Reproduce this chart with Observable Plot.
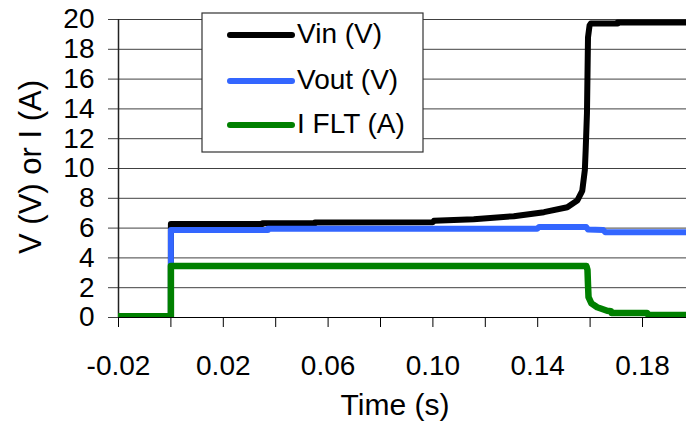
<!DOCTYPE html>
<html><head><meta charset="utf-8">
<script src="https://cdn.jsdelivr.net/npm/d3@7"></script>
<script src="https://cdn.jsdelivr.net/npm/@observablehq/plot@0.6"></script>
<style>
body{margin:0;background:#fff}
svg{display:block}
</style>
</head><body><div id="chart"></div>
<script>
// ---- data ----
const vinTime = [-0.02, 0, 0, 0.035, 0.035, 0.055, 0.055, 0.1, 0.1004, 0.1156, 0.1309, 0.1424, 0.1513, 0.1551, 0.157, 0.158, 0.1583, 0.1588, 0.1592, 0.1598, 0.1603, 0.1705, 0.1705, 0.2];
const vinValue = [0, 0, 6.27, 6.27, 6.32, 6.32, 6.38, 6.4, 6.49, 6.6, 6.8, 7.07, 7.4, 7.85, 8.5, 9.9, 11.2, 13.7, 18.8, 19.6, 19.73, 19.73, 19.8, 19.8];

const voutTime = [-0.02, 0, 0, 0.037, 0.037, 0.1398, 0.1405, 0.1585, 0.1592, 0.165, 0.1658, 0.2];
const voutValue = [0, 0, 5.87, 5.87, 5.96, 5.96, 6.07, 6.07, 5.9, 5.88, 5.72, 5.72];

const iTime = [-0.02, 0, 0, 0.1586, 0.159, 0.1592, 0.1594, 0.1605, 0.1627, 0.1665, 0.168, 0.1682, 0.1818, 0.1822, 0.2];
const iValue = [0.09, 0.09, 3.45, 3.45, 3.2, 2.2, 1.36, 0.95, 0.69, 0.45, 0.42, 0.3, 0.3, 0.16, 0.16];

const seriesNames = ["Vin (V)", "Vout (V)", "I FLT (A)"];
const seriesColors = ["#000000", "#3366ff", "#008000"];

const yTicks = [0, 2, 4, 6, 8, 10, 12, 14, 16, 18, 20];
const xMinorTicks = [-0.02, 0, 0.02, 0.04, 0.06, 0.08, 0.1, 0.12, 0.14, 0.16, 0.18];
const xLabelTicks = [-0.02, 0.02, 0.06, 0.1, 0.14, 0.18];

const xTitle = "Time (s)";
const yTitle = "V (V) or I (A)";

// ---- build tables ----
const toRows = (ts, vs, name) => ts.map((t, i) => ({t, v: vs[i], series: name}));
const vin = toRows(vinTime, vinValue, seriesNames[0]);
const vout = toRows(voutTime, voutValue, seriesNames[1]);
const ifl = toRows(iTime, iValue, seriesNames[2]);

const font = "'Liberation Sans', Arial, sans-serif";
const W = 686, H = 427;
const mL = 118, mT = 19, mB = 110, mR = 0;

const chart = Plot.plot({
  width: W, height: H,
  marginLeft: mL, marginTop: mT, marginBottom: mB, marginRight: mR,
  style: {fontFamily: font, fontSize: "28px", color: "#000", background: "#fff", overflow: "visible"},
  x: {domain: [-0.02, -0.02 + (W - mL) / 2620], label: null},
  y: {domain: [0, 20], label: null},
  marks: [
    Plot.gridY(yTicks, {stroke: "#000", strokeOpacity: 0.75, strokeWidth: 1}),
    Plot.axisY(yTicks, {tickSize: 10, tickPadding: 14, fontSize: 28, stroke: "#000", strokeOpacity: 0.75, tickFormat: d => String(d), label: null}),
    Plot.axisX(xMinorTicks, {tickSize: 10, stroke: "#000", tickFormat: () => "", label: null}),
    Plot.axisX(xLabelTicks, {tickSize: 0, tickPadding: 38, fontSize: 28, tickFormat: d => d.toFixed(2), label: null}),
    Plot.ruleX([-0.02], {stroke: "#222", strokeWidth: 1.5}),
    Plot.ruleY([0], {stroke: "#000", strokeWidth: 1}),
    Plot.line(vin, {x: "t", y: "v", stroke: seriesColors[0], strokeWidth: 6, strokeLinejoin: "round", clip: true}),
    Plot.line(vout, {x: "t", y: "v", stroke: seriesColors[1], strokeWidth: 6, strokeLinejoin: "round", clip: true}),
    Plot.line(ifl, {x: "t", y: "v", stroke: seriesColors[2], strokeWidth: 6.5, strokeLinejoin: "round", clip: true})
  ]
});

document.getElementById("chart").appendChild(chart);

// ---- titles and legend ----
const svg = d3.select(chart);
svg.append("text")
  .attr("x", 395).attr("y", 415)
  .attr("text-anchor", "middle")
  .style("font-family", font).style("font-size", "30px").attr("fill", "#000")
  .text(xTitle);
svg.append("text")
  .attr("transform", "translate(41,167) rotate(-90)")
  .attr("text-anchor", "middle")
  .style("font-family", font).style("font-size", "31px").attr("fill", "#000")
  .text(yTitle);

const lg = svg.append("g");
lg.append("rect").attr("x", 202).attr("y", 13).attr("width", 221).attr("height", 139)
  .attr("fill", "#fff").attr("stroke", "#333").attr("stroke-width", 1.2);
const rowsY = [35, 81, 125];
seriesNames.forEach((name, i) => {
  lg.append("line").attr("x1", 230).attr("x2", 292).attr("y1", rowsY[i]).attr("y2", rowsY[i])
    .attr("stroke", seriesColors[i]).attr("stroke-width", 6).attr("stroke-linecap", "round");
  lg.append("text").attr("x", 297).attr("y", rowsY[i] + 8)
    .attr("text-anchor", "start")
    .style("font-family", font).style("font-size", "28px").attr("fill", "#000")
    .text(name);
});
</script>
</body></html>
